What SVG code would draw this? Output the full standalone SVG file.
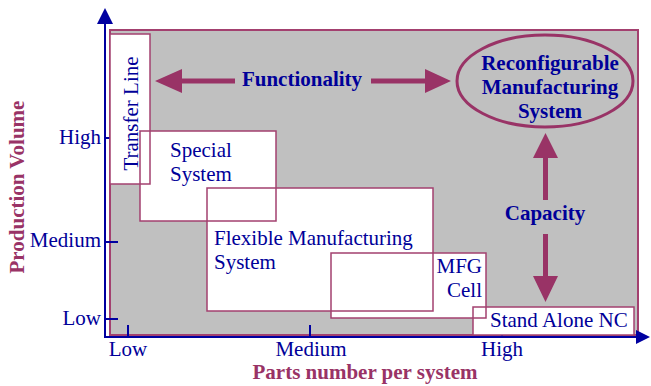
<svg xmlns="http://www.w3.org/2000/svg" width="651" height="386" viewBox="0 0 651 386">
<style>
.t{font-family:"Liberation Serif","Times New Roman",serif;font-size:21px;fill:#000099}
.b{font-weight:bold}
.m{fill:#993366}
.box{fill:#ffffff;stroke:#a3406f;stroke-width:1.5}
.ol{fill:none;stroke:#a3406f;stroke-width:1.5}
.ax{stroke:#0000a0;stroke-width:2;fill:none}
.arr{fill:#993366}
</style>
<rect x="110" y="30" width="528" height="305" fill="#c0c0c0" stroke="#a3406f" stroke-width="2"/>
<g id="ticks" class="ax">
<path d="M105 138H118M105 242H118M105 319H118M128 325V337M310 325V337M502 325V337"/>
</g>
<g id="fills" fill="#fff">
<rect x="110" y="34" width="40" height="150"/>
<rect x="140" y="131" width="136" height="90"/>
<rect x="207" y="188" width="226" height="123"/>
<rect x="331" y="253" width="155" height="65"/>
<rect x="473" y="307" width="161" height="28"/>
</g>
<g id="transfer-line">
<rect class="ol" x="110" y="34" width="40" height="150"/>
<text class="t" transform="translate(138,113.5) rotate(-90)" text-anchor="middle">Transfer Line</text>
</g>
<g id="special-system">
<rect class="ol" x="140" y="131" width="136" height="90"/>
<text class="t" x="170" y="157">Special</text>
<text class="t" x="170" y="181">System</text>
</g>
<g id="fms">
<rect class="ol" x="207" y="188" width="226" height="123"/>
<text class="t" x="214" y="245">Flexible Manufacturing</text>
<text class="t" x="214" y="269">System</text>
</g>
<g id="mfg-cell">
<rect class="ol" x="331" y="253" width="155" height="65"/>
<text class="t" x="482" y="273" text-anchor="end">MFG</text>
<text class="t" x="482" y="297" text-anchor="end">Cell</text>
</g>
<g id="stand-alone-nc">
<rect class="ol" x="473" y="307" width="161" height="28"/>
<text class="t" x="490" y="327">Stand Alone NC</text>
</g>
<g id="rms">
<ellipse cx="545" cy="81" rx="88" ry="46" fill="none" stroke="#993366" stroke-width="3"/>
<text class="t b" x="550" y="70" text-anchor="middle">Reconfigurable</text>
<text class="t b" x="550" y="94" text-anchor="middle">Manufacturing</text>
<text class="t b" x="550" y="118" text-anchor="middle">System</text>
</g>
<g id="connectors" class="arr">
<polygon points="155,81 182,69 182,78.5 235,78.5 235,83.5 182,83.5 182,93"/>
<polygon points="451,81 425,69 425,78.5 371,78.5 371,83.5 425,83.5 425,93"/>
<polygon points="545.5,133 533,158 543,158 543,200 548,200 548,158 558,158"/>
<polygon points="545.5,302 533,276 543,276 543,234 548,234 548,276 558,276"/>
</g>
<g id="labels">
<text class="t b" x="302" y="86" text-anchor="middle">Functionality</text>
<text class="t b" x="545" y="220" text-anchor="middle">Capacity</text>
</g>
<g id="axes">
<path class="ax" d="M105 24V337H638"/>
<polygon points="105,8 97,24 113,24" fill="#0000a0"/>
<polygon points="650,337 636,330 636,344" fill="#0000a0"/>
<text class="t" x="101" y="144" text-anchor="end">High</text>
<text class="t" x="101" y="247" text-anchor="end">Medium</text>
<text class="t" x="101" y="325" text-anchor="end">Low</text>
<text class="t" x="128" y="356" text-anchor="middle">Low</text>
<text class="t" x="311" y="356" text-anchor="middle">Medium</text>
<text class="t" x="502" y="356" text-anchor="middle">High</text>
<text class="t b m" x="365" y="379" text-anchor="middle" font-size="19.3">Parts number per system</text>
<text class="t b m" transform="translate(24,187) rotate(-90)" text-anchor="middle">Production Volume</text>
</g>
</svg>
